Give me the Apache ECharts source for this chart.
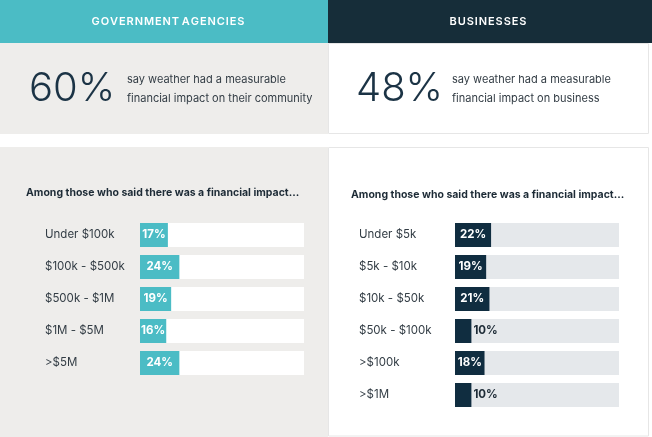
<!DOCTYPE html>
<html><head><meta charset="utf-8">
<script src="https://cdn.jsdelivr.net/npm/echarts@6/dist/echarts.min.js"></script>
<style>html,body{margin:0;padding:0;background:#fff}#c{width:652px;height:437px}</style>
</head><body><div id="c"></div>
<script>
const govCategories = ['Under $100k', '$100k - $500k', '$500k - $1M', '$1M - $5M', '>$5M'];
const govValues = [17, 24, 19, 16, 24];
const bizCategories = ['Under $5k', '$5k - $10k', '$10k - $50k', '$50k - $100k', '>$100k', '>$1M'];
const bizValues = [22, 19, 21, 10, 18, 10];
const headlineGov = '60%';
const headlineBiz = '48%';

const TEAL = '#4bbcc5', NAVY = '#102d40', GRAYBG = '#eeedeb', TRACK = '#e5e8eb';
const FONT = 'Inter, "Noto Sans", sans-serif';

function spaced(s) {
  return s.split(' ').map(w => w.split('').join('\u200a')).join(' ');
}

function items(vals, outsideColor) {
  return vals.map(v => ({
    value: v,
    label: v <= 12
      ? { position: 'right', distance: 2, color: outsideColor }
      : { position: 'inside', color: '#fff' }
  }));
}

const chart = echarts.init(document.getElementById('c'), null, { renderer: 'canvas' });
chart.setOption({
  animation: false,
  graphic: [
    { type: 'rect', shape: { x: 0, y: 0, width: 328, height: 43 }, style: { fill: TEAL }, z: -10 },
    { type: 'rect', shape: { x: 328, y: 0, width: 324, height: 43 }, style: { fill: '#162d39' }, z: -10 },
    { type: 'rect', shape: { x: 0, y: 43, width: 328, height: 91 }, style: { fill: GRAYBG }, z: -10 },
    { type: 'rect', shape: { x: 328.5, y: 43.5, width: 320, height: 90 }, style: { fill: '#fff', stroke: '#e6e6e6', lineWidth: 1 }, z: -10 },
    { type: 'rect', shape: { x: 0, y: 147, width: 328, height: 290 }, style: { fill: GRAYBG }, z: -10 },
    { type: 'rect', shape: { x: 328.5, y: 147.5, width: 320, height: 288.5 }, style: { fill: '#fff', stroke: '#e6e6e6', lineWidth: 1 }, z: -10 },
    { type: 'text', x: 168, y: 22, style: { text: spaced('GOVERNMENT AGENCIES'), fill: '#fff', font: '600 11px ' + FONT, align: 'center', verticalAlign: 'middle' } },
    { type: 'text', x: 488, y: 22, style: { text: spaced('BUSINESSES'), fill: '#fff', font: '600 11px ' + FONT, align: 'center', verticalAlign: 'middle' } },
    { type: 'text', x: 29, y: 89, style: { text: headlineGov, fill: '#1b3345', font: '300 40px ' + FONT, align: 'left', verticalAlign: 'middle' } },
    { type: 'text', x: 356, y: 89, style: { text: headlineBiz, fill: '#1b3345', font: '300 40px ' + FONT, align: 'left', verticalAlign: 'middle' } },
    { type: 'text', x: 127, y: 80, style: { text: 'say weather had a measurable', fill: '#333d45', font: '11px ' + FONT, align: 'left', verticalAlign: 'middle' } },
    { type: 'text', x: 127, y: 99, style: { text: 'financial impact on their community', fill: '#333d45', font: '11px ' + FONT, align: 'left', verticalAlign: 'middle' } },
    { type: 'text', x: 452, y: 80, style: { text: 'say weather had a measurable', fill: '#333d45', font: '11px ' + FONT, align: 'left', verticalAlign: 'middle' } },
    { type: 'text', x: 452, y: 99, style: { text: 'financial impact on business', fill: '#333d45', font: '11px ' + FONT, align: 'left', verticalAlign: 'middle' } },
    { type: 'text', x: 26, y: 193, style: { text: 'Among those who said there was a financial impact…', fill: '#1d2b36', font: '700 10.5px ' + FONT, align: 'left', verticalAlign: 'middle' } },
    { type: 'text', x: 351, y: 195, style: { text: 'Among those who said there was a financial impact…', fill: '#1d2b36', font: '700 10.5px ' + FONT, align: 'left', verticalAlign: 'middle' } }
  ],
  grid: [
    { left: 140, top: 219, width: 164, height: 160, containLabel: false },
    { left: 455, top: 219, width: 164, height: 192, containLabel: false }
  ],
  xAxis: [
    { gridIndex: 0, type: 'value', min: 0, max: 100, show: false },
    { gridIndex: 1, type: 'value', min: 0, max: 100, show: false }
  ],
  yAxis: [
    { gridIndex: 0, type: 'category', data: govCategories, inverse: true,
      axisLine: { show: false }, axisTick: { show: false },
      axisLabel: { align: 'left', margin: 95, color: '#333d45', fontSize: 11.5, fontFamily: FONT } },
    { gridIndex: 1, type: 'category', data: bizCategories, inverse: true,
      axisLine: { show: false }, axisTick: { show: false },
      axisLabel: { align: 'left', margin: 96, color: '#333d45', fontSize: 11.5, fontFamily: FONT } }
  ],
  series: [
    { type: 'bar', xAxisIndex: 0, yAxisIndex: 0, data: items(govValues, '#1d2b36'), barWidth: 24,
      itemStyle: { color: TEAL }, showBackground: true, backgroundStyle: { color: '#ffffff' },
      label: { show: true, formatter: '{c}%', fontSize: 11.5, fontWeight: 'bold', fontFamily: FONT } },
    { type: 'bar', xAxisIndex: 1, yAxisIndex: 1, data: items(bizValues, '#1d2b36'), barWidth: 24,
      itemStyle: { color: NAVY }, showBackground: true, backgroundStyle: { color: TRACK },
      label: { show: true, formatter: '{c}%', fontSize: 11.5, fontWeight: 'bold', fontFamily: FONT } }
  ]
});
</script></body></html>
